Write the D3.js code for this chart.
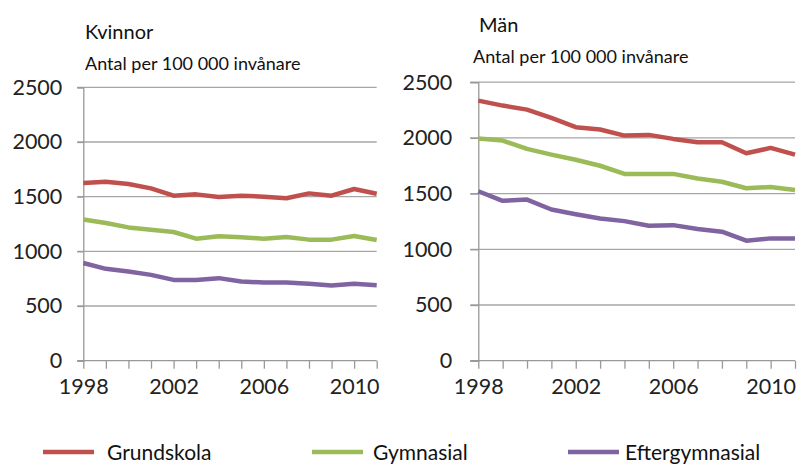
<!DOCTYPE html>
<html>
<head>
<meta charset="utf-8">
<script src="https://cdn.jsdelivr.net/npm/d3@7"></script>
<style>
  body { margin: 0; background: #fff; }
  svg { display: block; font-family: Lato, "Open Sans", sans-serif; }
</style>
</head>
<body>
<div id="chart"></div>
<script>
// Two panels, women / men, per 100 000 inhabitants
var years = [1998, 1999, 2000, 2001, 2002, 2003, 2004, 2005, 2006, 2007, 2008, 2009, 2010, 2011];
var yearLabels = [1998, 2002, 2006, 2010];
var yTicks = [0, 500, 1000, 1500, 2000, 2500];
var seriesNames = ["Grundskola", "Gymnasial", "Eftergymnasial"];
var seriesColors = ["#c0504d", "#9bbb59", "#8064a2"];

var kvinnorGrund = [1625, 1637, 1616, 1576, 1509, 1521, 1497, 1509, 1500, 1485, 1530, 1509, 1570, 1527];
var kvinnorGymn  = [1292, 1259, 1219, 1198, 1177, 1116, 1137, 1128, 1116, 1131, 1107, 1107, 1140, 1104];
var kvinnorEfter = [893, 840, 816, 785, 739, 739, 755, 724, 715, 715, 703, 687, 703, 690];

var manGrund = [2335, 2290, 2254, 2179, 2096, 2075, 2021, 2027, 1991, 1961, 1961, 1862, 1910, 1850];
var manGymn  = [1995, 1976, 1901, 1850, 1804, 1750, 1677, 1677, 1677, 1636, 1606, 1548, 1560, 1533];
var manEfter = [1521, 1435, 1446, 1357, 1315, 1277, 1253, 1211, 1217, 1182, 1158, 1077, 1098, 1098];

var width = 797, height = 465;

var svg = d3.select("#chart").append("svg")
    .attr("width", width)
    .attr("height", height);

function drawPanel(p) {
    var x = d3.scalePoint().domain(years).range([p.left, p.right]);
    var y = d3.scaleLinear().domain([0, 2500]).range([p.bottom, p.top]);

    var g = svg.append("g");

    // gridlines (with small outward tick on the left)
    g.selectAll(".grid")
        .data(yTicks.slice(1))
        .enter().append("line")
        .attr("x1", p.left - p.tickOut)
        .attr("x2", p.right)
        .attr("y1", function (d) { return y(d); })
        .attr("y2", function (d) { return y(d); })
        .attr("stroke", "#a6a6a6")
        .attr("stroke-width", 1.3);

    // y axis
    var yAxis = g.append("g")
        .attr("transform", "translate(" + p.left + ",0)")
        .call(d3.axisLeft(y).tickValues(yTicks).tickSize(p.tickOut)
            .tickPadding(p.labelPad).tickFormat(d3.format("d")));
    yAxis.select(".domain").attr("stroke", "#999").attr("stroke-width", 1.3);
    yAxis.selectAll(".tick line").attr("stroke", "#999").attr("stroke-width", 1.3);
    yAxis.selectAll("text").attr("font-size", 21.5).attr("fill", "#222")
        .attr("font-family", "Lato, sans-serif");

    // x axis
    var xAxis = g.append("g")
        .attr("transform", "translate(0," + p.bottom + ")")
        .call(d3.axisBottom(x).tickSize(8).tickPadding(10)
            .tickFormat(function (d) { return yearLabels.indexOf(d) >= 0 ? d : ""; }));
    xAxis.select(".domain").attr("stroke", "#999").attr("stroke-width", 1.3)
        .attr("d", "M" + (p.left - p.tickOut) + ",0H" + p.right);
    xAxis.selectAll(".tick line").attr("stroke", "#999").attr("stroke-width", 1.3);
    xAxis.selectAll("text").attr("font-size", 21.5).attr("fill", "#222")
        .attr("font-family", "Lato, sans-serif");

    var line = d3.line()
        .x(function (d, i) { return x(years[i]); })
        .y(function (d) { return y(d); });

    p.series.forEach(function (s, i) {
        g.append("path")
            .datum(s)
            .attr("d", line)
            .attr("fill", "none")
            .attr("stroke", seriesColors[i])
            .attr("stroke-width", 4.5)
            .attr("stroke-linejoin", "round");
    });

    g.append("text")
        .attr("x", p.titleX)
        .attr("y", p.titleY)
        .attr("font-size", 20)
        .attr("fill", "#111")
        .text(p.title);

    g.append("text")
        .attr("x", p.subX)
        .attr("y", p.subY)
        .attr("font-size", 18)
        .attr("fill", "#111")
        .text("Antal per 100 000 invånare");
}

drawPanel({
    left: 83.3, right: 376.7, top: 87.3, bottom: 360.7,
    tickOut: 6, labelPad: 15,
    title: "Kvinnor", titleX: 85, titleY: 39,
    subX: 85, subY: 70,
    series: [kvinnorGrund, kvinnorGymn, kvinnorEfter]
});

drawPanel({
    left: 478.3, right: 795, top: 82.2, bottom: 360.7,
    tickOut: 8, labelPad: 18,
    title: "Män", titleX: 479, titleY: 32,
    subX: 473, subY: 63,
    series: [manGrund, manGymn, manEfter]
});

// legend (kept just inside the bottom edge)
var legendX = [43, 312, 568];
var legendTextX = [107, 373, 625];
var legend = svg.append("g");
seriesNames.forEach(function (name, i) {
    legend.append("line")
        .attr("x1", legendX[i]).attr("x2", legendX[i] + 51)
        .attr("y1", 452).attr("y2", 452)
        .attr("stroke", seriesColors[i])
        .attr("stroke-width", 4.5);
    legend.append("text")
        .attr("x", legendTextX[i])
        .attr("y", 459.5)
        .attr("font-size", 21)
        .attr("fill", "#111")
        .text(name);
});
</script>
</body>
</html>
